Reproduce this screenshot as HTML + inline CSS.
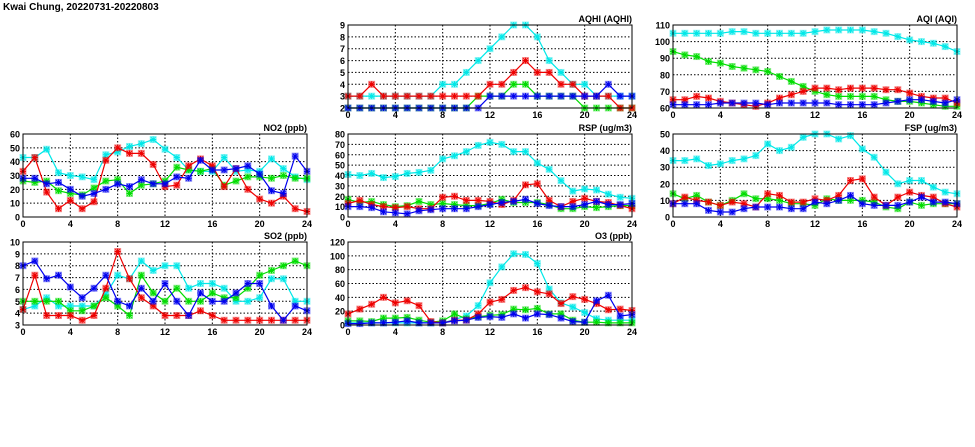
<!DOCTYPE html>
<html><head><meta charset="utf-8"><style>
html,body{margin:0;padding:0;background:#fff;}
svg{display:block;font-family:"Liberation Sans",sans-serif;}
</style></head><body>
<svg id="chart" width="975" height="447" viewBox="0 0 975 447">
<text x="3" y="10" font-size="10" font-weight="bold">Kwai Chung, 20220731-20220803</text>
</svg>
<script>
const hours = [0,1,2,3,4,5,6,7,8,9,10,11,12,13,14,15,16,17,18,19,20,21,22,23,24];
const xTicks = [0,4,8,12,16,20,24];
const seriesColors = ["#00e8e8","#00dd00","#ee0000","#0000ee"];
const seriesNames = ["cyan","green","red","blue"];

const aqhiCyan = [3,3,3,3,3,3,3,3,4,4,5,6,7,8,9,9,8,6,5,4,4,3,3,3,3];
const aqhiGreen = [2,2,2,2,2,2,2,2,2,2,2,3,3,3,4,4,3,3,3,3,2,2,2,2,2];
const aqhiRed = [3,3,4,3,3,3,3,3,3,3,3,3,4,4,5,6,5,5,4,4,3,3,3,2,2];
const aqhiBlue = [2,2,2,2,2,2,2,2,2,2,2,2,3,3,3,3,3,3,3,3,3,3,4,3,3];

const aqiCyan = [105,105,105,105,105,106,106,105,105,105,105,105,106,107,107,107,107,106,105,103,101,100,99,97,94];
const aqiGreen = [94,92,91,88,87,85,84,83,82,79,76,73,70,68,67,67,67,67,65,64,64,63,62,61,61];
const aqiRed = [65,65,67,66,64,63,62,61,63,66,68,70,72,72,71,72,72,72,71,71,69,67,66,66,63];
const aqiBlue = [62,62,62,62,63,63,63,63,62,63,63,63,63,63,62,62,62,62,63,64,65,65,64,63,65];

const no2Cyan = [43,43,49,32,30,29,27,45,47,51,53,56,49,43,34,33,33,43,33,34,33,42,35,29,27];
const no2Green = [26,25,26,19,17,16,21,26,27,17,23,24,26,36,34,33,35,23,26,29,29,28,30,28,28];
const no2Red = [33,43,18,6,12,6,11,41,50,46,46,38,22,23,37,42,37,22,35,20,13,10,15,6,4];
const no2Blue = [28,28,24,25,20,15,17,20,24,22,27,24,24,29,28,41,34,34,35,37,31,19,17,44,33];

const rspCyan = [41,40,42,38,39,42,43,45,56,59,63,69,72,70,63,63,52,46,35,25,27,26,22,19,18];
const rspGreen = [17,14,15,12,10,11,15,12,13,12,11,11,13,17,14,14,14,12,8,8,10,9,10,11,11];
const rspRed = [13,16,12,10,9,10,8,8,19,20,16,16,15,12,16,31,32,16,10,15,18,15,14,11,8];
const rspBlue = [10,10,9,5,4,3,6,7,8,8,8,10,12,14,15,17,13,11,10,10,12,15,12,12,13];

const fspCyan = [34,34,35,31,32,34,35,37,44,40,42,48,50,50,47,49,41,36,27,20,22,22,18,15,14];
const fspGreen = [14,11,13,9,7,10,14,11,11,10,8,8,7,11,10,10,10,9,6,5,9,7,8,8,8];
const fspRed = [8,12,10,9,7,9,8,6,14,13,9,9,11,10,13,22,23,12,7,12,15,13,12,8,6];
const fspBlue = [8,8,8,4,3,3,5,6,6,6,5,5,9,8,10,13,8,7,7,7,9,12,9,9,8];

const so2Cyan = [4.3,4.6,5.3,4.6,4.6,4.6,4.6,5.6,7.2,6.9,8.4,7.6,8,8,6.1,6.5,6.5,6.1,5,5,5.3,6.9,6.9,5,5];
const so2Green = [5,5,5,5,4.2,4.2,4.6,5.3,4.6,3.8,7.2,5.7,5,6.1,5,5,5.7,5.3,5.3,6.1,7.2,7.6,8,8.4,8];
const so2Red = [4.3,7.2,3.8,3.8,3.8,3.4,3.8,6.1,9.2,6.9,5.3,4.6,3.8,3.8,3.8,4.2,3.8,3.4,3.4,3.4,3.4,3.4,3.4,3.4,3.4];
const so2Blue = [8,8.4,6.9,7.2,6.2,5.3,6.1,7.2,5,4.6,6.1,5,6.5,5,3.8,5.7,5,5,5.7,6.5,6.5,4.6,3.4,4.6,4.2];

const o3Cyan = [3,3,3,3,3,3,3,3,3,8,13,28,61,84,103,102,89,52,32,26,18,9,7,7,7];
const o3Green = [6,6,5,10,10,11,7,4,6,16,9,12,14,15,23,22,24,16,16,7,4,4,3,3,3];
const o3Red = [16,23,30,40,32,35,28,5,3,7,7,16,33,37,50,54,48,45,31,41,37,31,22,23,21];
const o3Blue = [2,2,3,3,4,6,3,3,3,6,7,11,12,11,16,10,16,15,10,5,4,35,43,13,15];

const aqhiTicks = [2,3,4,5,6,7,8,9];
const aqiTicks = [60,70,80,90,100,110];
const no2Ticks = [0,10,20,30,40,50,60];
const rspTicks = [0,10,20,30,40,50,60,70,80];
const fspTicks = [0,10,20,30,40,50];
const so2Ticks = [3,4,5,6,7,8,9,10];
const o3Ticks = [0,20,40,60,80,100,120];

const panels = [
  {name:"aqhi",title:"AQHI (AQHI)",x:348,y:25,ticks:aqhiTicks,series:[aqhiCyan,aqhiGreen,aqhiRed,aqhiBlue]},
  {name:"aqi",title:"AQI (AQI)",x:673,y:25,ticks:aqiTicks,series:[aqiCyan,aqiGreen,aqiRed,aqiBlue]},
  {name:"no2",title:"NO2 (ppb)",x:23,y:134,ticks:no2Ticks,series:[no2Cyan,no2Green,no2Red,no2Blue]},
  {name:"rsp",title:"RSP (ug/m3)",x:348,y:134,ticks:rspTicks,series:[rspCyan,rspGreen,rspRed,rspBlue]},
  {name:"fsp",title:"FSP (ug/m3)",x:673,y:134,ticks:fspTicks,series:[fspCyan,fspGreen,fspRed,fspBlue]},
  {name:"so2",title:"SO2 (ppb)",x:23,y:242,ticks:so2Ticks,series:[so2Cyan,so2Green,so2Red,so2Blue]},
  {name:"o3",title:"O3 (ppb)",x:348,y:242,ticks:o3Ticks,series:[o3Cyan,o3Green,o3Red,o3Blue]}
];
const W = 284, H = 83;
const NS = "http://www.w3.org/2000/svg";
const svg = document.getElementById("chart");
function mk(tag, attrs, parent){
  const e = document.createElementNS(NS, tag);
  for (const k in attrs) e.setAttribute(k, attrs[k]);
  parent.appendChild(e);
  return e;
}
panels.forEach(p => {
  const g = mk("g", {}, svg);
  
  
  const ymin = p.ticks[0], ymax = p.ticks[p.ticks.length-1];
  const sx = v => p.x + v / 24 * W;
  const sy = v => p.y + H - (v - ymin) / (ymax - ymin) * H;
  // grid
  p.ticks.forEach(t => {
    const yy = sy(t);
    if (t !== ymin && t !== ymax) {
      const l = mk("line", {x1:p.x, x2:p.x+W, y1:yy, y2:yy, stroke:"#000", "stroke-width":1, "stroke-dasharray":"1.5,2"}, g);
      
      
    }
    const tx = mk("text", {x:p.x-3, y:yy+3.5, "font-size":9, "font-weight":"bold", "text-anchor":"end"}, g);
    tx.textContent = t;
    
    
  });
  xTicks.forEach(t => {
    const xx = sx(t);
    if (t !== 0 && t !== 24) {
      const l = mk("line", {x1:xx, x2:xx, y1:p.y, y2:p.y+H, stroke:"#000", "stroke-width":1, "stroke-dasharray":"1.5,2"}, g);
      
      
    }
    const tx = mk("text", {x:xx, y:p.y+H+10, "font-size":9, "font-weight":"bold", "text-anchor":"middle"}, g);
    tx.textContent = t;
    
    
  });
  const title = mk("text", {x:p.x+W, y:p.y-3, "font-size":9, "font-weight":"bold", "text-anchor":"end"}, g);
  title.textContent = p.title;
  
  
  p.series.forEach((vals, si) => {
    const c = seriesColors[si];
    const sg = mk("g", {}, g);
    
    
    const pts = vals.map((v,i) => sx(hours[i]).toFixed(1) + "," + sy(v).toFixed(1)).join(" ");
    const pl = mk("polyline", {points:pts, fill:"none", stroke:c, "stroke-width":1.2}, sg);
    
    
    vals.forEach((v,i) => {
      const cx = sx(hours[i]), cy = sy(v);
      const m = mk("g", {}, sg);
      
      
      mk("rect", {x:cx-3, y:cy-3, width:6, height:6, fill:c, "fill-opacity":0.35, stroke:c, "stroke-opacity":0.4, "stroke-width":1}, m);
      mk("path", {d:`M${cx-3} ${cy}H${cx+3}M${cx} ${cy-3}V${cy+3}M${cx-2.3} ${cy-2.3}L${cx+2.3} ${cy+2.3}M${cx-2.3} ${cy+2.3}L${cx+2.3} ${cy-2.3}`, stroke:c, "stroke-width":1}, m);
    });
  });
  const b = mk("rect", {x:p.x, y:p.y, width:W, height:H, fill:"none", stroke:"#000", "stroke-width":1}, g);
  
  
});
</script>
</body></html>
